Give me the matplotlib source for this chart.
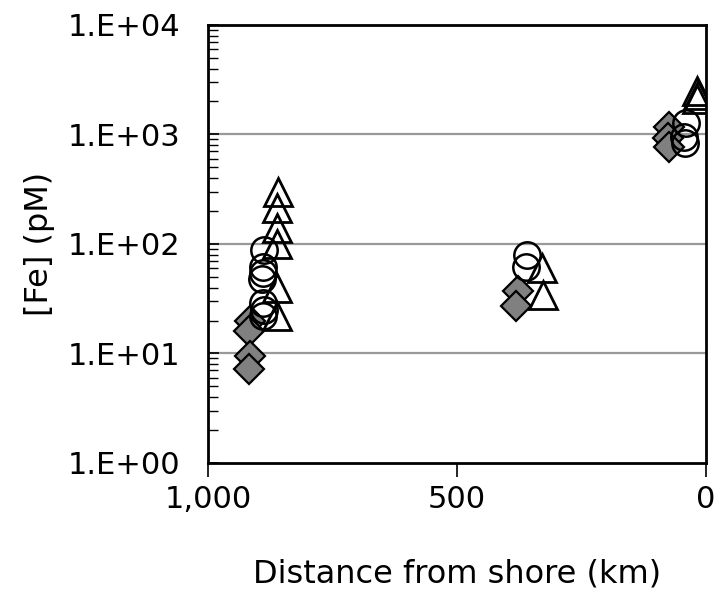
import matplotlib
matplotlib.use("Agg")
import matplotlib.pyplot as plt
from matplotlib.ticker import FixedLocator, LogLocator, NullFormatter

# Diamonds (grey)
dia_km = [915, 918, 916, 918, 378, 382, 74, 76, 75]
dia_fe = [20, 16, 9.5, 7.2, 37, 27, 1170, 930, 770]

# Circles (open)
circ_km = [888, 890, 889, 891, 889, 888, 890, 360, 361, 40, 44, 43]
circ_fe = [88, 62, 54, 48, 29, 25, 22, 80, 62, 1270, 950, 840]

# Triangles (open)
tri_km = [860, 861, 862, 861, 862, 861, 329, 327, 18, 17, 19]
tri_fe = [300, 213, 140, 100, 40, 22, 60, 34, 2500, 2300, 2100]

x_ticks = [1000, 500, 0]
x_labels = ["1,000", "500", "0"]
y_ticks = [1, 10, 100, 1000, 10000]
y_labels = ["1.E+00", "1.E+01", "1.E+02", "1.E+03", "1.E+04"]

fig = plt.figure(figsize=(7.23, 5.97), dpi=100)
ax = fig.add_axes([0.2877, 0.2245, 0.6888, 0.7337])

ax.set_yscale("log")
ax.set_ylim(1, 10000)
ax.set_xlim(1000, 0)

# gitter nur auf den Dekaden
for v in [10, 100, 1000]:
    ax.axhline(v, color="#999999", lw=1.6, zorder=1)

ax.plot(dia_km, dia_fe, ls="none", marker="D", ms=15, mfc="#808080",
        mec="black", mew=1.6, zorder=3)
ax.plot(circ_km, circ_fe, ls="none", marker="o", ms=19, mfc="none",
        mec="black", mew=1.8, zorder=4)
ax.plot(tri_km, tri_fe, ls="none", marker="^", ms=20, mfc="none",
        mec="black", mew=2.0, zorder=5)

ax.xaxis.set_major_locator(FixedLocator(x_ticks))
ax.set_xticklabels(x_labels)
ax.yaxis.set_major_locator(FixedLocator(y_ticks))
ax.set_yticklabels(y_labels)
ax.yaxis.set_minor_locator(LogLocator(base=10, subs=range(2, 10)))
ax.yaxis.set_minor_formatter(NullFormatter())

ax.tick_params(axis="x", direction="out", length=10, width=1.2, labelsize=22, pad=6)
ax.tick_params(axis="y", which="major", direction="in", length=8, width=1.2,
               labelsize=22, pad=20)
ax.tick_params(axis="y", which="minor", direction="in", length=7, width=1.0)

for s in ax.spines.values():
    s.set_linewidth(2)

ax.set_xlabel("Distance from shore (km)", fontsize=23, labelpad=32)
ax.set_ylabel("[Fe] (pM)", fontsize=23, labelpad=9)

fig.savefig("out.png", dpi=100)
